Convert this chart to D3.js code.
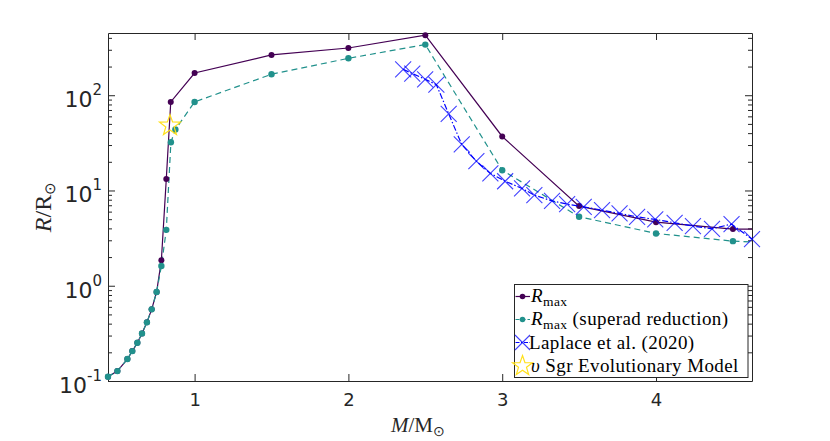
<!DOCTYPE html>
<html>
<head>
<meta charset="utf-8">
<script src="https://cdn.jsdelivr.net/npm/d3@7"></script>
<style>
  html, body { margin: 0; padding: 0; background: #fff; }
  svg { display: block; }
</style>
</head>
<body>
<svg id="chart" width="830" height="441"></svg>
<script>
// ---------------- data ----------------
const rmaxMass = [0.437, 0.498, 0.563, 0.595, 0.628, 0.658, 0.690, 0.721, 0.753, 0.784, 0.816, 0.845, 1.0, 1.5, 2.0, 2.5, 3.0, 3.5, 4.0, 4.5, 5.0];
const rmaxRadius = [0.111, 0.127, 0.170, 0.206, 0.252, 0.316, 0.413, 0.565, 0.859, 1.85, 13.2, 85.1, 171, 265, 313, 427, 36.9, 6.86, 4.65, 3.93, 3.9];

const superadMass = [0.437, 0.498, 0.563, 0.595, 0.628, 0.658, 0.690, 0.721, 0.753, 0.784, 0.816, 0.846, 0.875, 1.0, 1.5, 2.0, 2.5, 3.0, 3.5, 4.0, 4.5, 5.0];
const superadRadius = [0.111, 0.127, 0.170, 0.206, 0.252, 0.316, 0.413, 0.565, 0.859, 1.61, 3.86, 32.1, 43.7, 85, 166, 244, 340, 16.3, 5.3, 3.54, 2.94, 2.7];

const laplaceMass = [2.356, 2.415, 2.499, 2.572, 2.652, 2.737, 2.832, 2.923, 3.019, 3.129, 3.209, 3.324, 3.422, 3.530, 3.649, 3.763, 3.877, 3.995, 4.121, 4.240, 4.364, 4.491, 4.624];
const laplaceRadius = [187, 169, 147, 129, 63.7, 30.4, 20.3, 15.1, 12.5, 10.5, 8.93, 7.78, 7.19, 6.74, 6.22, 5.74, 5.29, 4.97, 4.58, 4.23, 3.96, 4.44, 3.09];

const starMass = [0.840];
const starRadius = [48];

const xTicks = [1, 2, 3, 4];
const yMajorTicks = [0.1, 1, 10, 100];
const yTickExponents = ["-1", "0", "1", "2"];

const legendLabels = ["Rmax", "Rmax (superad reduction)", "Laplace et al. (2020)", "υ Sgr Evolutionary Model"];

// ---------------- layout ----------------
const W = 830, H = 441;
const plot = { left: 108, right: 752, top: 33, bottom: 381 };
const xDomain = [0.437, 4.624];
const yDomain = [0.1, 450];

const colPurple = "#440154";
const colTeal = "#21918c";
const colBlue = "#0000ff";
const colStar = "#ffe01a";
const axisCol = "#262626";

const svg = d3.select("#chart");
const x = d3.scaleLinear().domain(xDomain).range([plot.left, plot.right]);
const y = d3.scaleLog().domain(yDomain).range([plot.bottom, plot.top]);

svg.append("defs").append("clipPath").attr("id", "clip")
  .append("rect")
  .attr("x", plot.left).attr("y", plot.top)
  .attr("width", plot.right - plot.left).attr("height", plot.bottom - plot.top);

// minor ticks
const yMinor = [];
for (let e = -1; e <= 2; e++) {
  for (let m = 2; m <= 9; m++) {
    const v = m * Math.pow(10, e);
    if (v <= yDomain[1]) yMinor.push(v);
  }
}

const axesG = svg.append("g");

// bottom axis
const xAxis = d3.axisBottom(x).tickValues(xTicks).tickSizeInner(-7).tickSizeOuter(0).tickPadding(12).tickFormat(d3.format("d"));
const gx = axesG.append("g").attr("transform", `translate(0,${plot.bottom})`).call(xAxis);
gx.select(".domain").attr("stroke", axisCol);
gx.selectAll(".tick line").attr("stroke", axisCol);
gx.selectAll(".tick text").attr("fill", "#262626")
  .style("font-family", "DejaVu Sans, sans-serif").style("font-size", "18px");

// top axis
const xAxisTop = d3.axisTop(x).tickValues(xTicks).tickSizeInner(-7).tickSizeOuter(0).tickFormat("");
const gxt = axesG.append("g").attr("transform", `translate(0,${plot.top})`).call(xAxisTop);
gxt.select(".domain").attr("stroke", axisCol);
gxt.selectAll(".tick line").attr("stroke", axisCol);

// left axis (major)
const yAxis = d3.axisLeft(y).tickValues(yMajorTicks).tickSizeInner(-7).tickSizeOuter(0).tickFormat("");
const gy = axesG.append("g").attr("transform", `translate(${plot.left},0)`).call(yAxis);
gy.select(".domain").attr("stroke", axisCol);
gy.selectAll(".tick line").attr("stroke", axisCol);
// left minor
const yAxisMinor = d3.axisLeft(y).tickValues(yMinor).tickSizeInner(-4).tickSizeOuter(0).tickFormat("");
const gym = axesG.append("g").attr("transform", `translate(${plot.left},0)`).call(yAxisMinor);
gym.select(".domain").remove();
gym.selectAll(".tick line").attr("stroke", axisCol);

// right axis
const yAxisR = d3.axisRight(y).tickValues(yMajorTicks).tickSizeInner(-7).tickSizeOuter(0).tickFormat("");
const gyr = axesG.append("g").attr("transform", `translate(${plot.right},0)`).call(yAxisR);
gyr.select(".domain").attr("stroke", axisCol);
gyr.selectAll(".tick line").attr("stroke", axisCol);
const yAxisRMinor = d3.axisRight(y).tickValues(yMinor).tickSizeInner(-4).tickSizeOuter(0).tickFormat("");
const gyrm = axesG.append("g").attr("transform", `translate(${plot.right},0)`).call(yAxisRMinor);
gyrm.select(".domain").remove();
gyrm.selectAll(".tick line").attr("stroke", axisCol);

// y tick labels with superscripts
const ylab = axesG.append("g");
yMajorTicks.forEach((v, i) => {
  const t = ylab.append("text")
    .attr("x", 102).attr("y", y(v) + 12)
    .attr("text-anchor", "end")
    .attr("fill", "#262626")
    .style("font-family", "DejaVu Sans, sans-serif")
    .style("font-size", "22px");
  t.append("tspan").text("10");
  t.append("tspan").attr("dy", -12).style("font-size", "15px").text(yTickExponents[i]);
});

// axis labels
const xl = svg.append("text")
  .attr("x", 418).attr("y", 432)
  .attr("text-anchor", "middle")
  .attr("fill", "#262626")
  .style("font-family", "Liberation Serif, serif").style("font-size", "21px");
xl.append("tspan").style("font-style", "italic").text("M");
xl.append("tspan").text("/M");
xl.append("tspan").attr("dy", 4).style("font-size", "14px").text("⊙");

const yl = svg.append("text")
  .attr("transform", `translate(51,${(plot.top + plot.bottom) / 2}) rotate(-90)`)
  .attr("text-anchor", "middle")
  .attr("fill", "#262626")
  .style("font-family", "Liberation Serif, serif").style("font-size", "24px");
yl.append("tspan").style("font-style", "italic").text("R");
yl.append("tspan").text("/R");
yl.append("tspan").attr("dy", 4).style("font-size", "15px").text("⊙");

// ---------------- series ----------------
const dataG = svg.append("g");
const lineClip = dataG.append("g").attr("clip-path", "url(#clip)");

const line = d3.line().x(d => x(d[0])).y(d => y(d[1]));
const purple = rmaxMass.map((m, i) => [m, rmaxRadius[i]]);
const teal = superadMass.map((m, i) => [m, superadRadius[i]]);
const lap = laplaceMass.map((m, i) => [m, laplaceRadius[i]]);
const inDomain = d => d[0] <= xDomain[1] + 1e-9;

lineClip.append("path").datum(purple).attr("d", line)
  .attr("fill", "none").attr("stroke", colPurple).attr("stroke-width", 1.2);
dataG.selectAll(".pdot").data(purple.filter(inDomain)).enter().append("circle")
  .attr("cx", d => x(d[0])).attr("cy", d => y(d[1])).attr("r", 3)
  .attr("fill", colPurple);

lineClip.append("path").datum(teal).attr("d", line)
  .attr("fill", "none").attr("stroke", colTeal).attr("stroke-width", 1.2)
  .attr("stroke-dasharray", "6,4");
dataG.selectAll(".tdot").data(teal.filter(inDomain)).enter().append("circle")
  .attr("cx", d => x(d[0])).attr("cy", d => y(d[1])).attr("r", 3.2)
  .attr("fill", colTeal);

// Laplace
dataG.append("path").datum(lap).attr("d", line)
  .attr("fill", "none").attr("stroke", colBlue).attr("stroke-width", 1.2)
  .attr("stroke-dasharray", "6,2,1.5,2");
const xMark = s => `M${-s},${-s}L${s},${s}M${-s},${s}L${s},${-s}`;
dataG.selectAll(".xm").data(lap).enter().append("path")
  .attr("transform", d => `translate(${x(d[0])},${y(d[1])})`)
  .attr("d", xMark(8))
  .attr("fill", "none").attr("stroke", colBlue).attr("stroke-width", 1.1).attr("stroke-opacity", 0.75);

// Star
function starPath(R, r) {
  let p = "";
  for (let k = 0; k < 10; k++) {
    const rad = k % 2 === 0 ? R : r;
    const a = -Math.PI / 2 + k * Math.PI / 5;
    p += (k === 0 ? "M" : "L") + (rad * Math.cos(a)).toFixed(2) + "," + (rad * Math.sin(a)).toFixed(2);
  }
  return p + "Z";
}
dataG.selectAll(".star").data(starMass.map((m, i) => [m, starRadius[i]])).enter().append("path")
  .attr("transform", d => `translate(${x(d[0])},${y(d[1])})`)
  .attr("d", starPath(11, 4.4))
  .attr("fill", "none").attr("stroke", colStar).attr("stroke-width", 1.2);

// ---------------- legend ----------------
const lg = svg.append("g");
const lgBox = { x: 514.5, y: 284.5, w: 233.5, h: 93 };
lg.append("rect").attr("x", lgBox.x).attr("y", lgBox.y).attr("width", lgBox.w).attr("height", lgBox.h)
  .attr("fill", "#fff").attr("stroke", axisCol).attr("stroke-width", 1);
const rowY = [296.5, 319.5, 342.5, 366];
const iconX0 = 515.5, iconX1 = 530, iconMid = 522.5, textX = 531;
const textStyle = sel => sel.attr("fill", "#000")
  .style("font-family", "Liberation Serif, serif").style("font-size", "19px")
  .style("letter-spacing", "0.4px");

// row 1
lg.append("line").attr("x1", iconX0).attr("x2", iconX1).attr("y1", rowY[0]).attr("y2", rowY[0])
  .attr("stroke", colPurple).attr("stroke-width", 1.2);
lg.append("circle").attr("cx", iconMid).attr("cy", rowY[0]).attr("r", 2.8).attr("fill", colPurple);
let t = lg.append("text").attr("x", textX).attr("y", rowY[0] + 5).call(textStyle);
t.append("tspan").style("font-style", "italic").text("R");
t.append("tspan").attr("dy", 4).style("font-size", "13.5px").text("max");

// row 2
lg.append("line").attr("x1", iconX0).attr("x2", iconX1).attr("y1", rowY[1]).attr("y2", rowY[1])
  .attr("stroke", colTeal).attr("stroke-width", 1.2).attr("stroke-dasharray", "4,2");
lg.append("circle").attr("cx", iconMid).attr("cy", rowY[1]).attr("r", 2.8).attr("fill", colTeal);
t = lg.append("text").attr("x", textX).attr("y", rowY[1] + 5).call(textStyle);
t.append("tspan").style("font-style", "italic").text("R");
t.append("tspan").attr("dy", 4).style("font-size", "13.5px").text("max");
t.append("tspan").attr("dy", -4).text(" (superad reduction)");

// row 3
lg.append("line").attr("x1", iconX0).attr("x2", iconX1).attr("y1", rowY[2]).attr("y2", rowY[2])
  .attr("stroke", colBlue).attr("stroke-width", 1.2).attr("stroke-dasharray", "4,1.5,1.5,1.5");
lg.append("path").attr("transform", `translate(${iconMid},${rowY[2]})`).attr("d", xMark(7.5))
  .attr("fill", "none").attr("stroke", colBlue).attr("stroke-width", 1.1).attr("stroke-opacity", 0.75);
lg.append("text").attr("x", textX - 2).attr("y", rowY[2] + 6).call(textStyle).text(legendLabels[2]);

// row 4
lg.append("path").attr("transform", `translate(${iconMid},${rowY[3]})`).attr("d", starPath(10.5, 4.2))
  .attr("fill", "none").attr("stroke", colStar).attr("stroke-width", 1.2);
t = lg.append("text").attr("x", textX).attr("y", rowY[3] + 6).call(textStyle);
t.append("tspan").style("font-style", "italic").text("υ");
t.append("tspan").text(" Sgr Evolutionary Model");
</script>
</body>
</html>
